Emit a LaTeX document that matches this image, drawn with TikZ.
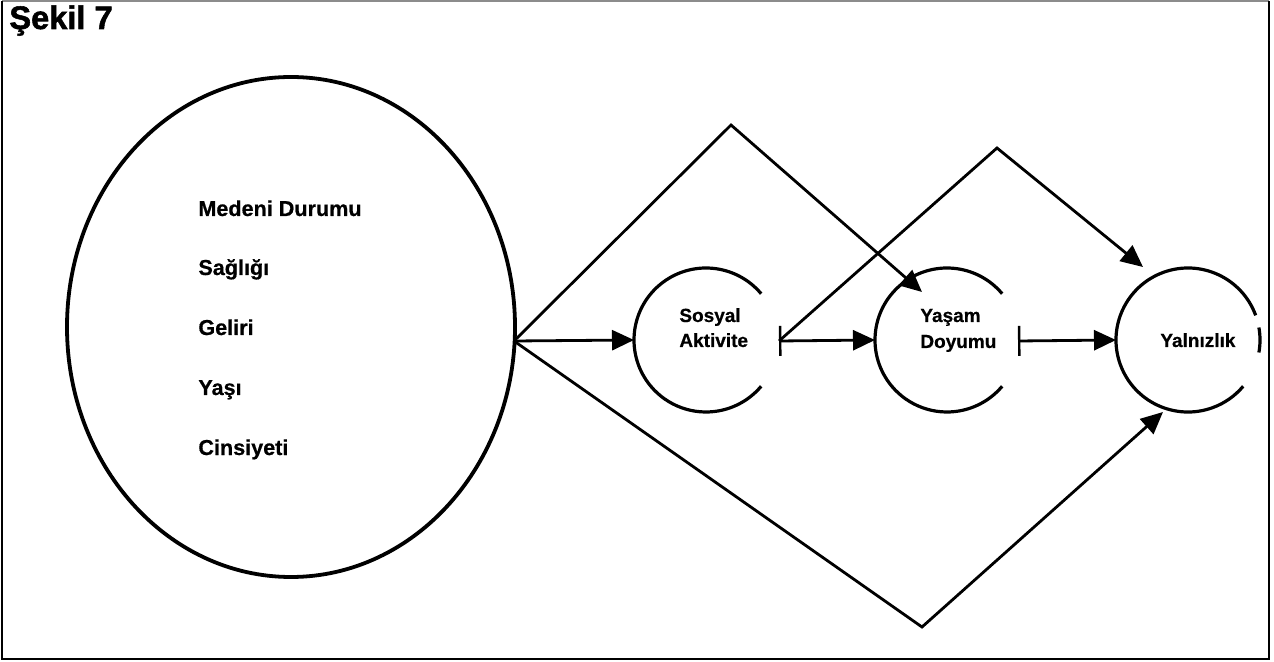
\documentclass[tikz,border=0pt]{standalone}
\usepackage{fontspec}
\setmainfont{Liberation Sans}
\newfontface\heavyfont[FakeBold=1.6]{Liberation Sans Bold}
\newfontface\medfont[FakeBold=0.6]{Liberation Sans Bold}
\usetikzlibrary{arrows.meta,shapes.geometric}
\begin{document}
\begin{tikzpicture}[x=0.5pt,y=-0.5pt,
 ln/.style={line width=1.4pt},
 arr/.style={ln,-{Triangle[length=11pt,width=10pt]}},
 bararr/.style={ln,{Bar[width=15pt,line width=1.2pt]}-{Triangle[length=11pt,width=10pt]}},
 circ/.style={circle,minimum size=72pt,inner sep=0pt,outer sep=0pt},
 arcline/.style={line width=1.6pt},
 lbl/.style={font=\medfont\fontsize{10.8pt}{13pt}\selectfont,anchor=base west,inner sep=0pt},
 clbl/.style={font=\medfont\fontsize{9.5pt}{11pt}\selectfont,anchor=base west,inner sep=0pt},
]
\useasboundingbox (0,0) rectangle (1274,662);
\draw[line width=0.6pt,black!45] (2,1) -- (1269,1);
\draw[line width=1.1pt] (2,1) -- (2,659) -- (1269,659) -- (1269,1);
\node[anchor=base west,inner sep=0pt,font=\heavyfont\fontsize{16.3pt}{18pt}\selectfont] (title) at (9,29) {Şekil 7};

% big ellipse with the factors
\node[ellipse,draw,line width=1.9pt,minimum width=224pt,minimum height=250pt,inner sep=0pt] (E) at (291,327) {};
\node[lbl] (m1) at (198,216) {Medeni Durumu};
\node[lbl] (m2) at (198,275) {Sağlığı};
\node[lbl] (m3) at (198,335) {Geliri};
\node[lbl] (m4) at (198,395) {Yaşı};
\node[lbl] (m5) at (198,455) {Cinsiyeti};
\coordinate (Ep) at (514,341);

% open circles
\node[circ] (sa) at (706,340) {};
\node[circ] (yd) at (947,340) {};
\node[circ] (yz) at (1188,340) {};
\draw[arcline] (sa.40) arc[start angle=40,end angle=320,radius=36pt];
\draw[arcline] (yd.40) arc[start angle=40,end angle=320,radius=36pt];
\draw[arcline] (yz.20) arc[start angle=20,end angle=320,radius=36pt];
\draw[arcline] (yz.-10) arc[start angle=-10,end angle=10,radius=36pt];

\node[clbl] (sa1) at (679,322) {Sosyal};
\node[clbl] (sa2) at (679,347) {Aktivite};
\node[clbl] (yd1) at (920,322) {Yaşam};
\node[clbl] (yd2) at (920,348) {Doyumu};
\node[clbl] (yz1) at (1160,347) {Yalnızlık};

% connector points
\coordinate (A1) at (731,125);
\coordinate (B1) at (922,627);
\coordinate (C1) at (997,148);
\coordinate (sbar) at (779,341);
\coordinate (dbar) at (1018,341);
\coordinate (t1) at (922,292);
\coordinate (t2) at (1143,267);
\coordinate (t3) at (1163,412);

\draw[arr] (Ep) -- (sa.west);
\draw[arr] (Ep) -- (A1) -- (t1);
\draw[arr] (Ep) -- (B1) -- (t3);
\draw[bararr] (sbar) -- (yd.west);
\draw[arr] (sbar) -- (C1) -- (t2);
\draw[bararr] (dbar) -- (yz.west);
\end{tikzpicture}
\end{document}
